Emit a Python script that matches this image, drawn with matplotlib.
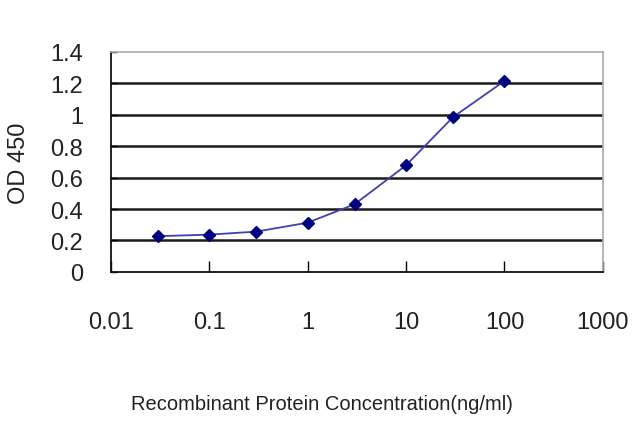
import matplotlib
matplotlib.use("Agg")
import matplotlib.pyplot as plt
from matplotlib.ticker import FixedLocator, FixedFormatter, NullLocator

conc = [0.03, 0.1, 0.3, 1, 3, 10, 30, 100]
od450 = [0.227, 0.237, 0.256, 0.313, 0.43, 0.678, 0.985, 1.215]
xticks = [0.01, 0.1, 1, 10, 100, 1000]
xtick_labels = ["0.01", "0.1", "1", "10", "100", "1000"]
yticks = [0, 0.2, 0.4, 0.6, 0.8, 1.0, 1.2, 1.4]
ytick_labels = ["0", "0.2", "0.4", "0.6", "0.8", "1", "1.2", "1.4"]

plt.rcParams['font.family'] = ['Liberation Sans', 'DejaVu Sans']

fig = plt.figure(figsize=(6.4, 4.27), dpi=100)
ax = fig.add_axes([0.173, 0.361, 0.769, 0.515])

ax.plot(conc, od450, color='#4040b0', lw=1.3, marker='D', markersize=6,
        markerfacecolor='#000080', markeredgecolor='#000080', zorder=3)

ax.set_xscale('log')
ax.set_xlim(0.01, 1000)
ax.set_ylim(0, 1.4)
ax.xaxis.set_major_locator(FixedLocator(xticks))
ax.xaxis.set_major_formatter(FixedFormatter(xtick_labels))
ax.xaxis.set_minor_locator(NullLocator())
ax.yaxis.set_major_locator(FixedLocator(yticks))
ax.yaxis.set_major_formatter(FixedFormatter(ytick_labels))

for y in yticks[1:-1]:
    ax.axhline(y, color='#1a1a1a', lw=1.8, zorder=1)

ax.tick_params(axis='x', direction='in', length=8, width=1, pad=28,
               labelsize=17, labelcolor='#222222')
ax.tick_params(axis='y', direction='in', length=4, width=1, pad=20,
               labelsize=17, labelcolor='#222222')

for s in ['left', 'bottom']:
    ax.spines[s].set_color('#111111')
    ax.spines[s].set_linewidth(1.3)
for s in ['top', 'right']:
    ax.spines[s].set_color('#aaaaaa')
    ax.spines[s].set_linewidth(1.2)

fig.text(0.03, 0.618, "OD 450", rotation=90, ha='center', va='center',
         fontsize=17, color='#222222')
fig.text(0.503, 0.052, "Recombinant Protein Concentration(ng/ml)", ha='center',
         va='center', fontsize=14.5, color='#222222')

fig.savefig("out.png", dpi=100)
